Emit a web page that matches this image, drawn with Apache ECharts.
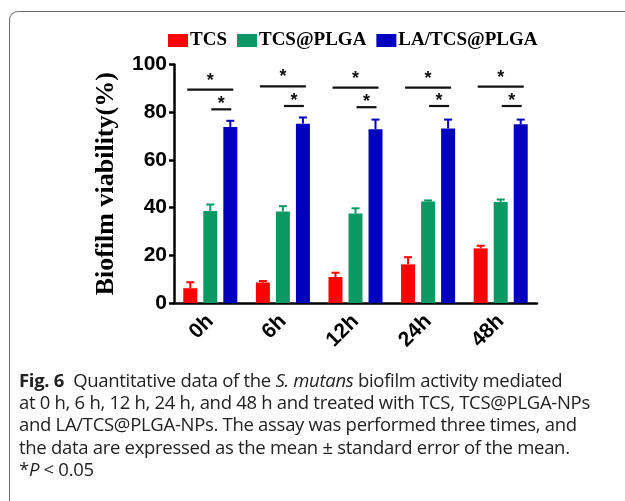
<!DOCTYPE html>
<html>
<head>
<meta charset="utf-8">
<script src="https://cdn.jsdelivr.net/npm/echarts@6/dist/echarts.min.js"></script>
<style>
    html, body { margin: 0; padding: 0; background: #fff; }
    #wrap { position: relative; width: 625px; height: 501px; overflow: hidden; }
    #frame {
        position: absolute; left: 9px; top: 11px; width: 700px; height: 600px;
        border-left: 1.5px solid #6a6a6a; border-top: 1.5px solid #6a6a6a;
        border-top-left-radius: 9px;
    }
    #chart { position: absolute; left: 0; top: 0; width: 625px; height: 501px; }
    #caption {
        position: absolute; left: 19px; top: 369px; white-space: nowrap;
        font-family: "Open Sans", sans-serif; font-size: 18.5px; line-height: 22.2px;
        color: #222; letter-spacing: -0.3px;
    }
</style>
</head>
<body>
<div id="wrap">
    <div id="frame"></div>
    <div id="chart"></div>
    <div id="caption"><b>Fig. 6</b>&nbsp; Quantitative data of the <i>S. mutans</i> biofilm activity mediated<br>at 0 h, 6 h, 12 h, 24 h, and 48 h and treated with TCS, TCS@PLGA-NPs<br>and LA/TCS@PLGA-NPs. The assay was performed three times, and<br>the data are expressed as the mean ± standard error of the mean.<br>*<i>P</i> &lt; 0.05</div>
</div>
<script>
// 数据
const categories = ['0h', '6h', '12h', '24h', '48h']
const seriesNames = ['TCS', 'TCS@PLGA', 'LA/TCS@PLGA']
const tcs = [6.2, 8.6, 10.9, 16.2, 22.9]
const tcsErr = [2.5, 0.6, 1.8, 3.0, 1.1]
const plga = [38.6, 38.4, 37.5, 42.6, 42.4]
const plgaErr = [2.7, 2.2, 2.2, 0.4, 1.0]
const la = [73.8, 75.2, 72.9, 73.2, 74.9]
const laErr = [2.6, 2.6, 4.0, 3.7, 2.0]
// 显著性标记线高度
const sigLong = [89.5, 90.8, 90.3, 90.3, 90.7]
const sigShort = [81.2, 82.6, 82.1, 82.6, 82.6]

const colors = ['#fe0000', '#0b9862', '#0000bd']
const means = [tcs, plga, la]
const errs = [tcsErr, plgaErr, laErr]
const barW = 14
const step = 20

const chart = echarts.init(document.getElementById('chart'))

// 误差线 (只画上半部分)
function errorSeries(k) {
    return {
        type: 'custom',
        z: 5,
        silent: true,
        data: means[k].map((v, i) => [i, v, v + errs[k][i]]),
        renderItem(params, api) {
            const base = api.coord([api.value(0), api.value(1)])
            const top = api.coord([api.value(0), api.value(2)])
            const x = base[0] + (k - 1) * step
            return {
                type: 'group',
                children: [
                    { type: 'line', shape: { x1: x, y1: base[1], x2: x, y2: top[1] }, style: { stroke: colors[k], lineWidth: 2 } },
                    { type: 'line', shape: { x1: x - 4, y1: top[1], x2: x + 4, y2: top[1] }, style: { stroke: colors[k], lineWidth: 2 } }
                ]
            }
        }
    }
}

const sigSeries = {
    type: 'custom',
    z: 6,
    silent: true,
    data: categories.map((c, i) => [i, sigLong[i], sigShort[i]]),
    renderItem(params, api) {
        const a = api.coord([api.value(0), api.value(1)])
        const b = api.coord([api.value(0), api.value(2)])
        const cx = a[0]
        const star = (x, y) => ({
            type: 'text',
            style: { x, y, text: '*', fill: '#111', font: 'bold 18px "Liberation Sans"', align: 'center', verticalAlign: 'middle' }
        })
        return {
            type: 'group',
            children: [
                { type: 'line', shape: { x1: cx - 23, y1: a[1], x2: cx + 23, y2: a[1] }, style: { stroke: '#111', lineWidth: 2.2 } },
                { type: 'line', shape: { x1: cx + 1, y1: b[1], x2: cx + 21, y2: b[1] }, style: { stroke: '#111', lineWidth: 2.2 } },
                star(cx, a[1] - 9),
                star(cx + 11, b[1] - 5)
            ]
        }
    }
}

const option = {
    animation: false,
    color: colors,
    legend: {
        data: seriesNames,
        left: 163,
        top: 26,
        itemWidth: 20,
        itemHeight: 13,
        itemGap: 10,
        icon: 'rect',
        textStyle: {
            fontFamily: '"Liberation Serif", serif',
            fontWeight: 'bold',
            fontSize: 19,
            color: '#000',
            padding: [0, 0, 0, -3]
        }
    },
    grid: {
        left: 174,
        right: 88,
        top: 64.5,
        bottom: 198,
        containLabel: false
    },
    xAxis: {
        type: 'category',
        data: categories,
        axisLine: { lineStyle: { color: '#000', width: 2.5 } },
        axisTick: { alignWithLabel: true, length: 6, lineStyle: { color: '#000', width: 2.5 } },
        axisLabel: {
            rotate: 45,
            margin: 15,
            color: '#000',
            fontFamily: '"Liberation Sans", Arial',
            fontWeight: 'bold',
            fontSize: 21
        }
    },
    yAxis: {
        type: 'value',
        min: 0,
        max: 100,
        interval: 20,
        name: 'Biofilm viability(%)',
        nameLocation: 'middle',
        nameGap: 55,
        nameTextStyle: {
            fontFamily: '"Liberation Serif", serif',
            fontWeight: 'bold',
            fontSize: 26,
            color: '#000'
        },
        splitLine: { show: false },
        axisLine: { show: true, lineStyle: { color: '#000', width: 2.5 } },
        axisTick: { show: true, length: 5, lineStyle: { color: '#000', width: 2.5 } },
        axisLabel: {
            margin: 7,
            color: '#000',
            fontFamily: '"Liberation Sans", Arial',
            fontWeight: 'bold',
            fontSize: 21
        }
    },
    series: [
        { name: seriesNames[0], type: 'bar', data: tcs, barWidth: barW, barGap: '43%' },
        { name: seriesNames[1], type: 'bar', data: plga, barWidth: barW, barGap: '43%' },
        { name: seriesNames[2], type: 'bar', data: la, barWidth: barW, barGap: '43%' },
        errorSeries(0),
        errorSeries(1),
        errorSeries(2),
        sigSeries
    ]
}

chart.setOption(option)
</script>
</body>
</html>
